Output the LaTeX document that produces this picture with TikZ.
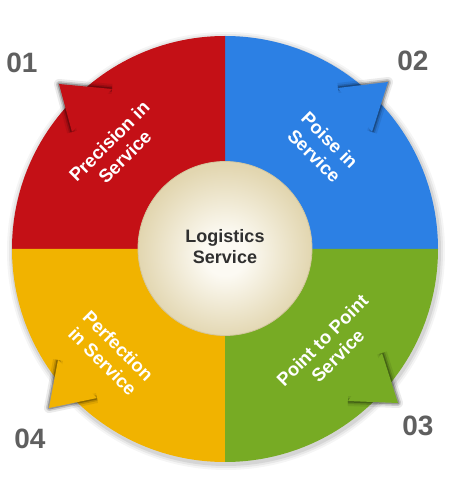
\documentclass[tikz,border=0pt]{standalone}
\usepackage{fontspec}
\setmainfont{Liberation Sans}
\usetikzlibrary{positioning}
\definecolor{precisionred}{HTML}{C41016}
\definecolor{poiseblue}{HTML}{2C80E4}
\definecolor{pointgreen}{HTML}{77AB24}
\definecolor{perfectionyellow}{HTML}{F1B300}
\definecolor{hubin}{HTML}{FCFAF3}
\definecolor{hubout}{HTML}{E2D6B0}
\definecolor{hubline}{HTML}{D3C69E}
\definecolor{hubtext}{HTML}{303030}
\definecolor{numgray}{HTML}{5F5F5F}
\pgfdeclareradialshading{hubshade}{\pgfpoint{0bp}{-2bp}}{color(0bp)=(hubin); color(6bp)=(hubin); color(25bp)=(hubout); color(50bp)=(hubout)}

\begin{document}
\begin{tikzpicture}[x=1pt, y=1pt,
        segtext/.style={text=white, align=center,
            font=\bfseries\fontsize{18.5}{22}\selectfont},
        numtext/.style={text=numgray, font=\bfseries\fontsize{28}{30}\selectfont},
        hubtitle/.style={text=hubtext, align=center,
            font=\bfseries\fontsize{18}{21}\selectfont},
        barbshade/.style={black, line join=round, line cap=butt}
    ]
    \useasboundingbox (-225,-251) rectangle (225,249);

    \fill[black, opacity=0.04] (1,-2) circle (219);
    \fill[black, opacity=0.06] (1,-2) circle (217);
    \fill[black, opacity=0.08] (1,-2) circle (215);

    \fill[poiseblue] (0,0) -- (0:213) arc[start angle=0, end angle=90, radius=213] -- cycle;
    \fill[precisionred] (0,0) -- (90:213) arc[start angle=90, end angle=180, radius=213] -- cycle;
    \fill[perfectionyellow] (0,0) -- (180:213) arc[start angle=180, end angle=270, radius=213] -- cycle;
    \fill[pointgreen] (0,0) -- (270:213) arc[start angle=270, end angle=360, radius=213] -- cycle;

    \coordinate (redtip) at (-166,165);
    \coordinate (bluetip) at (163,167);
    \coordinate (greentip) at (173,-154);
    \coordinate (yellowtip) at (-176,-159);

    \draw[barbshade, opacity=0.08, line width=10] (-113,160) -- (redtip) -- (-153,117);
    \draw[barbshade, opacity=0.15, line width=6] (-113,160) -- (redtip) -- (-153,117);
    \draw[barbshade, opacity=0.25, line width=3] (-113,160) -- (redtip) -- (-153,117);
    \fill[precisionred] (-113,160) -- (redtip) -- (-153,117) -- cycle;

    \draw[barbshade, opacity=0.08, line width=10] (113,161) -- (bluetip) -- (147,117);
    \draw[barbshade, opacity=0.15, line width=6] (113,161) -- (bluetip) -- (147,117);
    \draw[barbshade, opacity=0.25, line width=3] (113,161) -- (bluetip) -- (147,117);
    \fill[poiseblue] (113,161) -- (bluetip) -- (147,117) -- cycle;

    \draw[barbshade, opacity=0.08, line width=10] (157,-104) -- (greentip) -- (123,-152);
    \draw[barbshade, opacity=0.15, line width=6] (157,-104) -- (greentip) -- (123,-152);
    \draw[barbshade, opacity=0.25, line width=3] (157,-104) -- (greentip) -- (123,-152);
    \fill[pointgreen] (157,-104) -- (greentip) -- (123,-152) -- cycle;

    \draw[barbshade, opacity=0.08, line width=10] (-167,-111) -- (yellowtip) -- (-128,-149);
    \draw[barbshade, opacity=0.15, line width=6] (-167,-111) -- (yellowtip) -- (-128,-149);
    \draw[barbshade, opacity=0.25, line width=3] (-167,-111) -- (yellowtip) -- (-128,-149);
    \fill[perfectionyellow] (-167,-111) -- (yellowtip) -- (-128,-149) -- cycle;

    \node[circle, minimum size=174, inner sep=0, shading=hubshade,
        draw=hubline, line width=0.8] (hub) at (0,0.5) {};
    \node[hubtitle] (hubname) at (0,2) {Logistics\\Service};

    \node[segtext, rotate=45] (precision) at (-108,100) {Precision in\\Service};
    \node[segtext, rotate=-45] (poise) at (97,101) {Poise in\\Service};
    \node[segtext, rotate=45] (pointtopoint) at (105,-99) {Point to Point\\Service};
    \node[segtext, rotate=-45] (perfection) at (-114.5,-104.5) {Perfection\\in Service};

    \node[numtext] (n01) at (-203,186) {01};
    \node[numtext] (n02) at (188,188) {02};
    \node[numtext] (n03) at (193,-177) {03};
    \node[numtext] (n04) at (-195,-190) {04};
\end{tikzpicture}
\end{document}
